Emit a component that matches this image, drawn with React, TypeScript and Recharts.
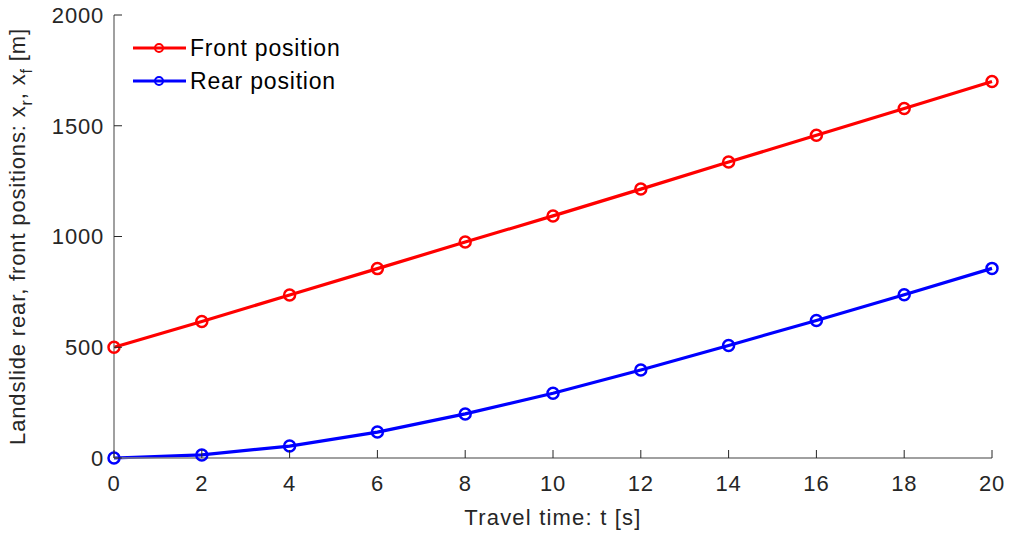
import React from "react";
import { LineChart, Line, XAxis, YAxis, Legend } from "recharts";

// values
const times = [0, 2, 4, 6, 8, 10, 12, 14, 16, 18, 20];
const frontPos = [500, 616, 736, 855, 975, 1093, 1214, 1336, 1457, 1578, 1700];
const rearPos = [0, 14, 54, 117, 199, 292, 397, 508, 621, 737, 856];
const xTicks = [0, 2, 4, 6, 8, 10, 12, 14, 16, 18, 20];
const yTicks = [0, 500, 1000, 1500, 2000];

const data = times.map((t, i) => ({ t, front: frontPos[i], rear: rearPos[i] }));

const FONT = "'Liberation Sans', Arial, Helvetica, sans-serif";
const TEXT = "#262626";
const AXIS = "#808080";
const TICK = 8;

const BottomTick = (p: any) => (
  <g>
    <line x1={p.x} x2={p.x} y1={p.y} y2={p.y - TICK} stroke={TEXT} strokeWidth={1} />
    <text x={p.x} y={p.y + 33} textAnchor="middle" fill={TEXT} fontSize={22} letterSpacing={0.8} fontFamily={FONT}>
      {p.payload.value}
    </text>
  </g>
);

const TopTick = (p: any) => (
  <line x1={p.x} x2={p.x} y1={p.y} y2={p.y + TICK} stroke={TEXT} strokeWidth={1} />
);

const LeftTick = (p: any) => (
  <g>
    <line x1={p.x} x2={p.x + TICK} y1={p.y} y2={p.y} stroke={TEXT} strokeWidth={1} />
    <text x={p.x - 10} y={p.y} dy="0.36em" textAnchor="end" fill={TEXT} fontSize={22} letterSpacing={0.8} fontFamily={FONT}>
      {p.payload.value}
    </text>
  </g>
);

const RightTick = (p: any) => (
  <line x1={p.x} x2={p.x - TICK} y1={p.y} y2={p.y} stroke={TEXT} strokeWidth={1} />
);

const YLabel = (props: any) => {
  const vb = props.viewBox;
  const cx = vb.x + 25;
  const cy = vb.y + vb.height / 2;
  return (
    <text
      x={cx}
      y={cy}
      transform={`rotate(-90, ${cx}, ${cy})`}
      textAnchor="middle"
      fill={TEXT}
      fontSize={22}
      letterSpacing={0.85}
      fontFamily={FONT}
    >
      Landslide rear, front positions: x
      <tspan fontSize={16} dy={7}>r</tspan>
      <tspan dy={-7}>, x</tspan>
      <tspan fontSize={16} dy={7}>f</tspan>
      <tspan dy={-7}> [m]</tspan>
    </text>
  );
};

const LegendBox = (props: any) => (
  <svg width={260} height={70}>
    {(props.payload || [])
      .filter((e: any) => e.value !== "hidden")
      .map((e: any, i: number) => (
        <g key={e.value} transform={`translate(0, ${18 + i * 33})`}>
          <line x1={3} x2={56} y1={0} y2={0} stroke={e.color} strokeWidth={3} />
          <circle cx={29} cy={0} r={4} fill="none" stroke={e.color} strokeWidth={2} />
          <text x={60} y={0} dy="0.36em" fill="#000" fontSize={23} letterSpacing={0.8} fontFamily={FONT}>
            {e.value}
          </text>
        </g>
      ))}
  </svg>
);

export default function App() {
  return (
    <div style={{ position: "absolute", left: 0, top: 0, background: "#fff" }}>
      <LineChart width={1009} height={533} data={data} margin={{ top: 15, right: 17, left: 0, bottom: 0 }}>
        <XAxis
          xAxisId="bottom"
          dataKey="t"
          type="number"
          domain={[0, 20]}
          ticks={xTicks}
          height={75}
          tickSize={0}
          tickMargin={0}
          tickLine={false}
          axisLine={{ stroke: AXIS, strokeWidth: 1.5 }}
          tick={<BottomTick />}
          label={{
            value: "Travel time: t [s]",
            position: "insideBottom",
            offset: 8,
            fill: TEXT,
            fontSize: 22,
            letterSpacing: 1.2,
            fontFamily: FONT,
          }}
        />
        <XAxis
          xAxisId="top"
          orientation="top"
          dataKey="t"
          type="number"
          domain={[0, 20]}
          ticks={xTicks}
          height={0}
          tickSize={0}
          tickMargin={0}
          tickLine={false}
          axisLine={{ stroke: AXIS, strokeWidth: 1.5 }}
          tick={<TopTick />}
        />
        <YAxis
          yAxisId="left"
          type="number"
          domain={[0, 2000]}
          ticks={yTicks}
          width={114}
          tickSize={0}
          tickMargin={0}
          tickLine={false}
          axisLine={{ stroke: AXIS, strokeWidth: 1.5 }}
          tick={<LeftTick />}
          label={{ content: (p: any) => <YLabel viewBox={p.viewBox} /> }}
        />
        <YAxis
          yAxisId="right"
          orientation="right"
          type="number"
          domain={[0, 2000]}
          ticks={yTicks}
          width={0}
          tickSize={0}
          tickMargin={0}
          tickLine={false}
          axisLine={{ stroke: AXIS, strokeWidth: 1.5 }}
          tick={<RightTick />}
        />
        <Legend
          layout="vertical"
          align="center"
          verticalAlign="middle"
          content={<LegendBox />}
          wrapperStyle={{ left: 130, top: 30, width: 260 }}
        />
        {/* invisible series so the top/right box axes get drawn */}
        <Line
          xAxisId="top"
          yAxisId="right"
          dataKey="front"
          name="hidden"
          stroke="none"
          dot={false}
          activeDot={false}
          legendType="none"
          isAnimationActive={false}
        />
        <Line
          xAxisId="bottom"
          yAxisId="left"
          dataKey="front"
          name="Front position"
          stroke="#ff0000"
          strokeWidth={3.2}
          dot={{ r: 5.5, fill: "none", stroke: "#ff0000", strokeWidth: 2.5 }}
          activeDot={false}
          isAnimationActive={false}
        />
        <Line
          xAxisId="bottom"
          yAxisId="left"
          dataKey="rear"
          name="Rear position"
          stroke="#0000ff"
          strokeWidth={3.2}
          dot={{ r: 5.5, fill: "none", stroke: "#0000ff", strokeWidth: 2.5 }}
          activeDot={false}
          isAnimationActive={false}
        />
      </LineChart>
    </div>
  );
}
